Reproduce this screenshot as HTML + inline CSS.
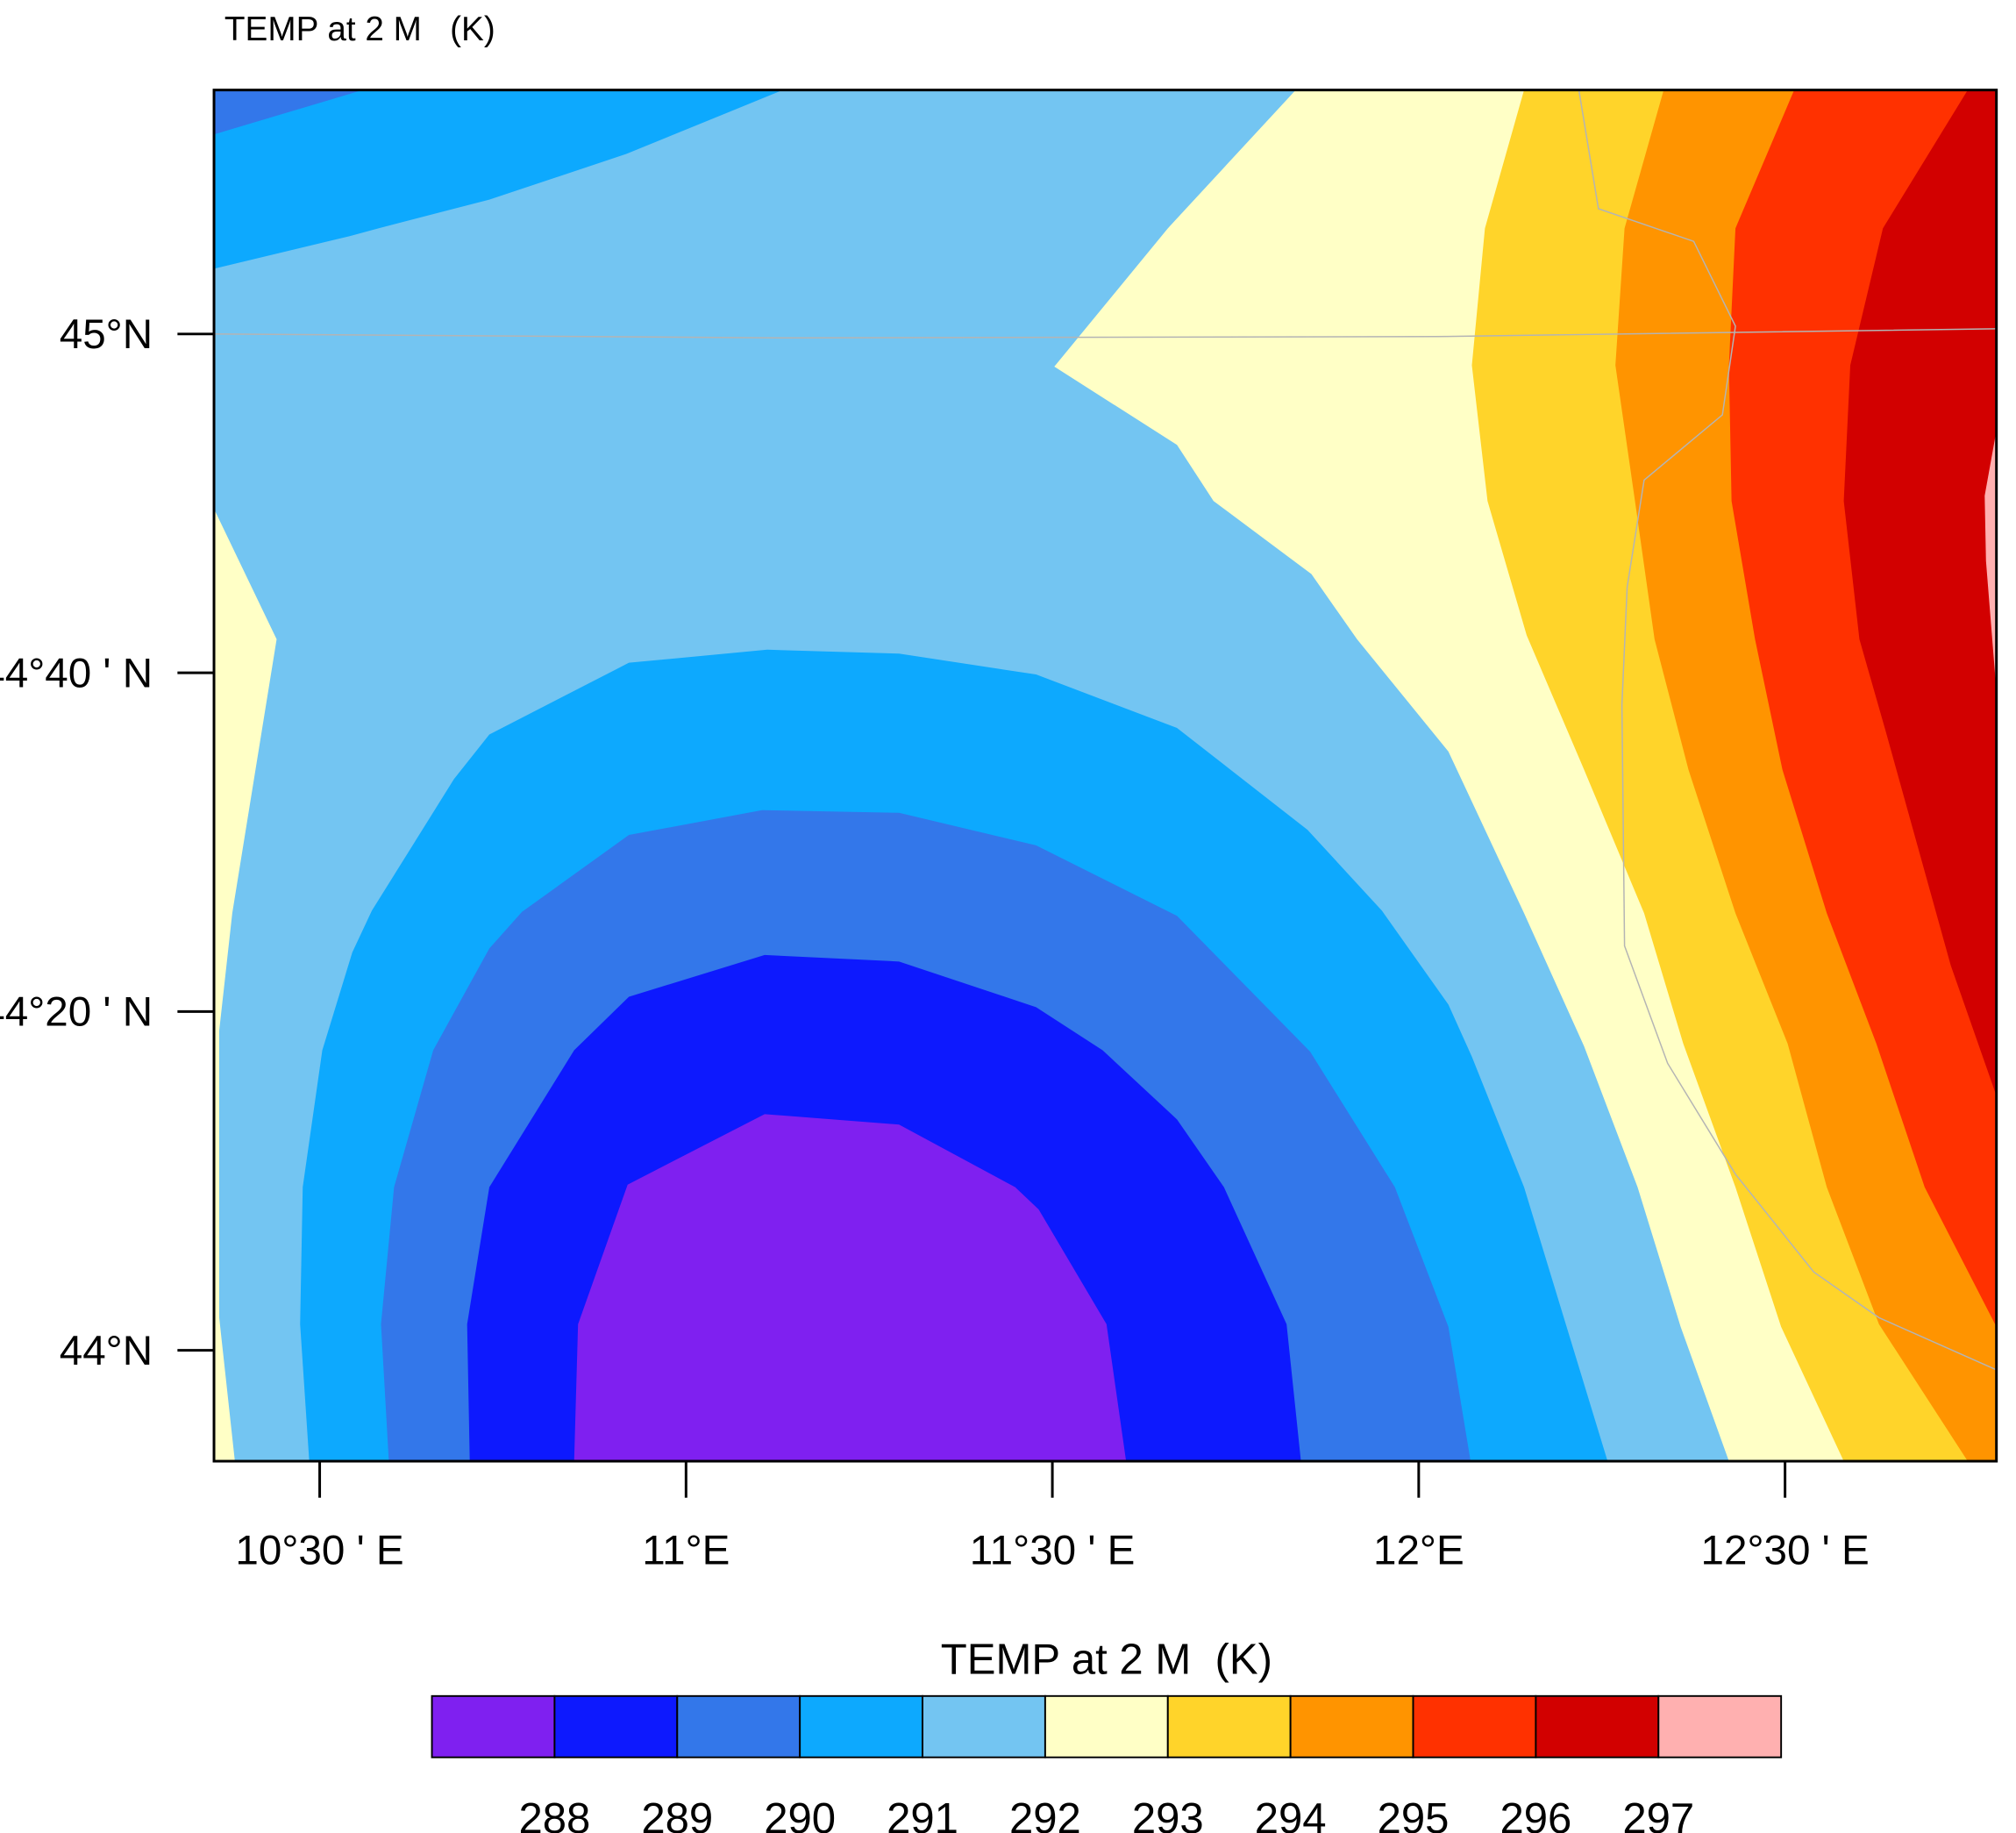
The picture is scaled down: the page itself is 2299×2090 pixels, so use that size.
<!DOCTYPE html>
<html><head><meta charset="utf-8"><style>
html,body{margin:0;padding:0;background:#fff;width:2299px;height:2090px;overflow:hidden}
svg{display:block}
text{font-family:"Liberation Sans",Arial,sans-serif;fill:#000;white-space:pre}
</style></head><body>
<svg id="chart" width="2299" height="2090" viewBox="0 0 1545 1405" preserveAspectRatio="none" xmlns="http://www.w3.org/2000/svg" xml:space="preserve">
<defs><clipPath id="frameclip"><rect x="164" y="69" width="1366" height="1051"/></clipPath></defs>
<g id="plot" clip-path="url(#frameclip)"></g>
<rect x="164" y="69" width="1366" height="1051" fill="none" stroke="#000" stroke-width="2"/>
<g id="axes"></g>
<g id="cbar"></g>
<text x="172" y="31" font-size="26">TEMP at 2 M   (K)</text>
<text x="848" y="1283" font-size="33" text-anchor="middle">TEMP at 2 M  (K)</text>
</svg>
<script>
const levels=[288,289,290,291,292,293,294,295,296,297];
const colors=["#7F20F0","#0D19FE","#3377EA","#0DA9FE","#73C5F2","#FFFFC6","#FFD42A","#FF9400","#FF3100","#D20000","#FFB0B0"];
const lonTicks=[10.5,11,11.5,12,12.5];
const lonLabels=["10°30 ' E","11°E","11°30 ' E","12°E","12°30 ' E"];
const latTicks=[44,44+20/60,44+40/60,45];
const latLabels=["44°N","44°20 ' N","44°40 ' N","45°N"];
function xLon(lon){return 245+(lon-10.5)*561.5;}
function yLat(lat){return 1035-(lat-44)*779;}
// contour region geometry (plot coordinates) keyed by color index
const regions=[
 [4,[[164,69],[1530,69],[1530,1120],[164,1120]]],
 [3,[[164,69],[600,69],[480,118],[375,153],[290,175],[268,181],[164,206]]],
 [2,[[164,69],[278,69],[164,103]]],
 [5,[[164,390],[212,490],[178,700],[168,790],[168,1010],[180,1120],[164,1120]]],
 [3,[[237,1120],[230,1015],[232,910],[247,805],[270,730],[285,698],[348,597],[375,563],[482,508],[588,498],[689,501],[794,517],[902,558],[1002,636],[1059,698],[1110,770],[1128,810],[1168,910],[1200,1015],[1232,1120]]],
 [2,[[298,1120],[292,1015],[302,910],[332,805],[375,727],[400,699],[482,640],[584,621],[689,623],[794,648],[902,702],[1004,806],[1069,910],[1110,1017],[1127,1120]]],
 [1,[[360,1120],[358,1015],[375,910],[440,805],[482,764],[586,732],[689,737],[794,772],[845,805],[902,858],[938,910],[986,1015],[997,1120]]],
 [0,[[440,1120],[443,1015],[481,908],[586,854],[689,862],[778,910],[796,927],[848,1015],[863,1120]]],
 [5,[[993,69],[1530,69],[1530,1120],[1325,1120],[1288,1017],[1255,910],[1214,802],[1168,700],[1110,576],[1040,490],[1005,440],[930,384],[902,341],[808,281],[895,175]]],
 [6,[[1168,69],[1530,69],[1530,1120],[1413,1120],[1365,1017],[1330,910],[1290,800],[1260,700],[1214,590],[1170,487],[1140,384],[1128,280],[1138,175]]],
 [7,[[1275,69],[1530,69],[1530,1120],[1508,1120],[1440,1015],[1400,910],[1370,800],[1330,700],[1294,590],[1268,490],[1253,384],[1238,280],[1245,175]]],
 [8,[[1375,69],[1530,69],[1530,1017],[1475,910],[1438,800],[1400,700],[1366,590],[1345,490],[1327,384],[1325,280],[1330,175]]],
 [9,[[1508,69],[1530,69],[1530,840],[1495,740],[1470,650],[1445,560],[1425,490],[1413,384],[1418,280],[1443,175]]],
 [10,[[1530,330],[1521,380],[1522,430],[1530,530]]]
];
const borders=[
 [[164,256],[600,259],[1100,258],[1530,252]],
 [[1210,69],[1225,160],[1298,185],[1330,250],[1320,318],[1260,368],[1247,450],[1243,540],[1245,725],[1278,815],[1330,900],[1390,975],[1440,1010],[1530,1050]]
];
const NS="http://www.w3.org/2000/svg";
function mk(tag,attrs,parent){const e=document.createElementNS(NS,tag);for(const k in attrs)e.setAttribute(k,attrs[k]);parent.appendChild(e);return e;}
const plot=document.getElementById('plot');
regions.forEach((r,i)=>{
 const p=mk('polygon',{points:r[1].map(q=>q.join(',')).join(' '),fill:colors[r[0]]},plot);
 
 
});
borders.forEach((b,i)=>{
 const l=mk('polyline',{points:b.map(q=>q.join(',')).join(' '),fill:'none',stroke:'#b4b4b4','stroke-width':1},plot);
 
 
});
const axes=document.getElementById('axes');
lonTicks.forEach((v,i)=>{
 const x=xLon(v);
 const t=mk('line',{x1:x,x2:x,y1:1120,y2:1148,stroke:'#000','stroke-width':2},axes);
 
 
 const tx=mk('text',{x:x,y:1199,'font-size':32,'text-anchor':'middle'},axes);
 tx.textContent=lonLabels[i];
 
 
});
latTicks.forEach((v,i)=>{
 const y=yLat(v);
 const t=mk('line',{x1:136,x2:164,y1:y,y2:y,stroke:'#000','stroke-width':2},axes);
 
 
 const tx=mk('text',{x:117,y:y+11,'font-size':32,'text-anchor':'end'},axes);
 tx.textContent=latLabels[i];
 
 
});
const cb=document.getElementById('cbar');
colors.forEach((c,i)=>{
 const r=mk('rect',{x:331+i*94,y:1300,width:94,height:47,fill:c,stroke:'#000','stroke-width':1.3},cb);
 
 
});
levels.forEach((v,i)=>{
 const tx=mk('text',{x:331+(i+1)*94,y:1405,'font-size':33,'text-anchor':'middle'},cb);
 tx.textContent=v;
 
 
});
</script>
</body></html>
